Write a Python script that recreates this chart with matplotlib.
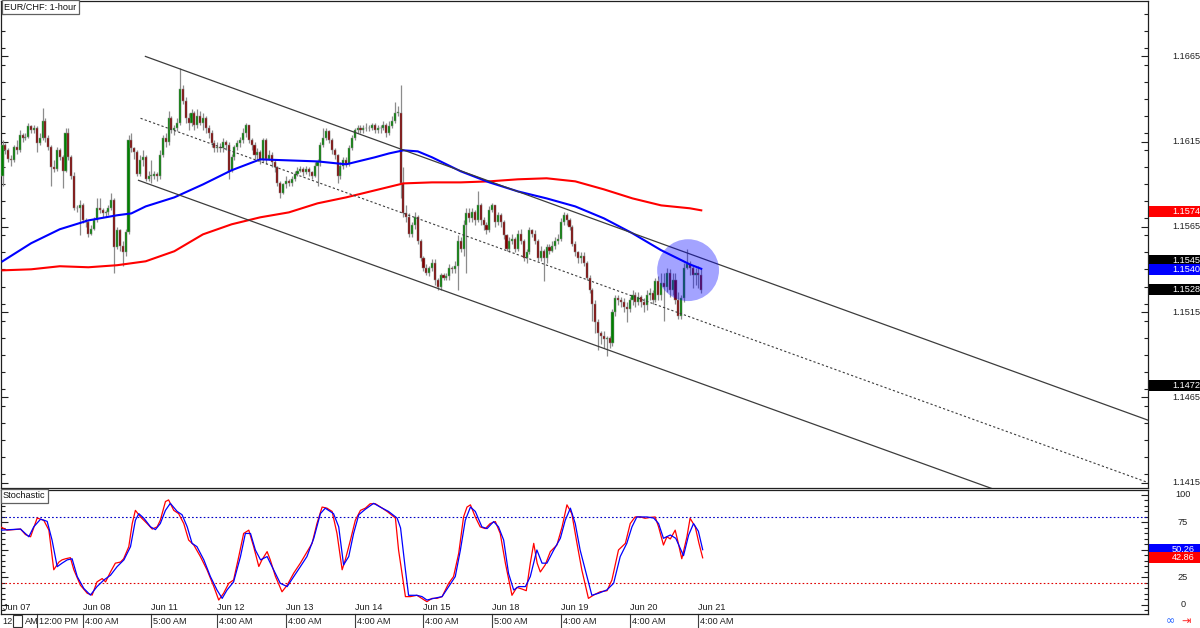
import matplotlib
matplotlib.use('Agg')
import matplotlib.pyplot as plt
from matplotlib.patches import Rectangle, Ellipse
from matplotlib.transforms import blended_transform_factory
from matplotlib.ticker import FixedLocator, MultipleLocator
import numpy as np

plt.rcParams['font.family'] = ['Liberation Sans', 'DejaVu Sans']

# ---------------- data (EUR/CHF 1-hour) ----------------
first_open = 1.1595
close = [
    1.1613, 1.1610, 1.1605, 1.1604, 1.1612, 1.1610, 1.1619, 1.1617, 1.1618, 1.1624,
    1.1622, 1.1623, 1.1614, 1.1617, 1.1627, 1.1617, 1.1612, 1.1600, 1.1599, 1.1610,
    1.1606, 1.1598, 1.1620, 1.1606, 1.1595, 1.1576, 1.1576, 1.1578, 1.1569, 1.1568,
    1.1561, 1.1564, 1.1569, 1.1576, 1.1575, 1.1573, 1.1574, 1.1576, 1.1581, 1.1553,
    1.1563, 1.1554, 1.1550, 1.1562, 1.1616, 1.1611, 1.1609, 1.1596, 1.1604, 1.1606,
    1.1593, 1.1595, 1.1595, 1.1596, 1.1595, 1.1607, 1.1617, 1.1615, 1.1629, 1.1622,
    1.1623, 1.1626, 1.1646, 1.1639, 1.1629, 1.1626, 1.1632, 1.1625, 1.1630, 1.1626,
    1.1629, 1.1623, 1.1620, 1.1614, 1.1611, 1.1612, 1.1611, 1.1615, 1.1613, 1.1598,
    1.1606, 1.1612, 1.1614, 1.1616, 1.1620, 1.1625, 1.1616, 1.1613, 1.1607, 1.1609,
    1.1604, 1.1616, 1.1605, 1.1607, 1.1603, 1.1600, 1.1591, 1.1585, 1.1590, 1.1592,
    1.1591, 1.1593, 1.1596, 1.1598, 1.1599, 1.1597, 1.1599, 1.1597, 1.1595, 1.1601,
    1.1603, 1.1613, 1.1617, 1.1621, 1.1616, 1.1610, 1.1607, 1.1595, 1.1601, 1.1604,
    1.1602, 1.1611, 1.1617, 1.1622, 1.1623, 1.1622, 1.1623, 1.1623, 1.1623, 1.1625,
    1.1622, 1.1623, 1.1623, 1.1625, 1.1620, 1.1624, 1.1627, 1.1632, 1.1632, 1.1591,
    1.1573, 1.1571, 1.1561, 1.1566, 1.1571, 1.1557, 1.1547, 1.1541, 1.1538, 1.1541,
    1.1544, 1.1534, 1.1530, 1.1537, 1.1535, 1.1536, 1.1541, 1.1540, 1.1542, 1.1557,
    1.1552, 1.1566, 1.1573, 1.1570, 1.1574, 1.1569, 1.1578, 1.1569, 1.1566, 1.1563,
    1.1575, 1.1578, 1.1568, 1.1572, 1.1568, 1.1560, 1.1552, 1.1557, 1.1558, 1.1552,
    1.1561, 1.1557, 1.1547, 1.1550, 1.1563, 1.1561, 1.1557, 1.1547, 1.1551, 1.1547,
    1.1553, 1.1551, 1.1554, 1.1557, 1.1558, 1.1568, 1.1572, 1.1569, 1.1565, 1.1555,
    1.1550, 1.1547, 1.1548, 1.1544, 1.1535, 1.1528, 1.1520, 1.1509, 1.1503, 1.1501,
    1.1499, 1.1500, 1.1497, 1.1515, 1.1523, 1.1522, 1.1521, 1.1518, 1.1517, 1.1522,
    1.1525, 1.1521, 1.1524, 1.1521, 1.1519, 1.1525, 1.1526, 1.1522, 1.1533, 1.1525,
    1.1532, 1.1530, 1.1538, 1.1528, 1.1534, 1.1522, 1.1513, 1.1523, 1.1541, 1.1543,
    1.1541, 1.1537, 1.1538, 1.1537, 1.1528]
high = [
    1.1616, 1.1614, 1.1611, 1.1607, 1.1613, 1.1616, 1.1622, 1.1620, 1.1620, 1.1626,
    1.1625, 1.1625, 1.1624, 1.1620, 1.1635, 1.1629, 1.1619, 1.1613, 1.1604, 1.1612,
    1.1611, 1.1607, 1.1623, 1.1623, 1.1607, 1.1597, 1.1578, 1.1581, 1.1579, 1.1570,
    1.1569, 1.1566, 1.1571, 1.1582, 1.1582, 1.1576, 1.1575, 1.1578, 1.1585, 1.1582,
    1.1565, 1.1564, 1.1557, 1.1564, 1.1619, 1.1620, 1.1612, 1.1610, 1.1607, 1.1610,
    1.1607, 1.1598, 1.1604, 1.1598, 1.1597, 1.1610, 1.1619, 1.1620, 1.1633, 1.1630,
    1.1625, 1.1629, 1.1658, 1.1648, 1.1641, 1.1632, 1.1634, 1.1633, 1.1634, 1.1633,
    1.1632, 1.1630, 1.1625, 1.1622, 1.1616, 1.1615, 1.1614, 1.1617, 1.1616, 1.1615,
    1.1608, 1.1613, 1.1616, 1.1618, 1.1623, 1.1626, 1.1625, 1.1617, 1.1615, 1.1611,
    1.1610, 1.1617, 1.1617, 1.1610, 1.1609, 1.1605, 1.1601, 1.1592, 1.1591, 1.1595,
    1.1593, 1.1595, 1.1598, 1.1600, 1.1601, 1.1600, 1.1601, 1.1600, 1.1598, 1.1603,
    1.1605, 1.1615, 1.1623, 1.1623, 1.1622, 1.1617, 1.1611, 1.1608, 1.1603, 1.1606,
    1.1606, 1.1613, 1.1619, 1.1623, 1.1625, 1.1625, 1.1625, 1.1626, 1.1625, 1.1626,
    1.1626, 1.1625, 1.1625, 1.1627, 1.1626, 1.1627, 1.1630, 1.1638, 1.1636, 1.1648,
    1.1600, 1.1578, 1.1573, 1.1568, 1.1574, 1.1572, 1.1558, 1.1548, 1.1543, 1.1542,
    1.1546, 1.1546, 1.1535, 1.1538, 1.1538, 1.1538, 1.1543, 1.1542, 1.1545, 1.1560,
    1.1559, 1.1569, 1.1576, 1.1576, 1.1576, 1.1575, 1.1586, 1.1579, 1.1571, 1.1568,
    1.1577, 1.1579, 1.1578, 1.1574, 1.1573, 1.1569, 1.1561, 1.1559, 1.1561, 1.1559,
    1.1563, 1.1564, 1.1558, 1.1552, 1.1565, 1.1564, 1.1563, 1.1558, 1.1554, 1.1552,
    1.1555, 1.1555, 1.1557, 1.1559, 1.1561, 1.1570, 1.1574, 1.1573, 1.1570, 1.1566,
    1.1557, 1.1551, 1.1550, 1.1550, 1.1545, 1.1537, 1.1529, 1.1522, 1.1511, 1.1504,
    1.1504, 1.1501, 1.1501, 1.1517, 1.1525, 1.1525, 1.1524, 1.1523, 1.1521, 1.1524,
    1.1528, 1.1527, 1.1527, 1.1525, 1.1523, 1.1528, 1.1529, 1.1528, 1.1535, 1.1536,
    1.1538, 1.1538, 1.1541, 1.1540, 1.1538, 1.1538, 1.1527, 1.1525, 1.1544, 1.1552,
    1.1545, 1.1542, 1.1541, 1.1542, 1.1540]
low = [
    1.1589, 1.1608, 1.1603, 1.1601, 1.1603, 1.1608, 1.1609, 1.1615, 1.1616, 1.1617,
    1.1620, 1.1620, 1.1609, 1.1613, 1.1616, 1.1615, 1.1610, 1.1589, 1.1597, 1.1598,
    1.1604, 1.1588, 1.1597, 1.1604, 1.1593, 1.1575, 1.1574, 1.1560, 1.1567, 1.1565,
    1.1559, 1.1560, 1.1563, 1.1568, 1.1573, 1.1571, 1.1571, 1.1572, 1.1575, 1.1538,
    1.1552, 1.1551, 1.1542, 1.1548, 1.1561, 1.1609, 1.1605, 1.1595, 1.1595, 1.1601,
    1.1592, 1.1592, 1.1591, 1.1593, 1.1592, 1.1593, 1.1606, 1.1612, 1.1613, 1.1620,
    1.1619, 1.1621, 1.1625, 1.1637, 1.1626, 1.1622, 1.1624, 1.1622, 1.1623, 1.1625,
    1.1622, 1.1620, 1.1617, 1.1612, 1.1609, 1.1609, 1.1609, 1.1609, 1.1610, 1.1593,
    1.1597, 1.1604, 1.1610, 1.1612, 1.1614, 1.1618, 1.1614, 1.1610, 1.1605, 1.1604,
    1.1602, 1.1603, 1.1602, 1.1604, 1.1600, 1.1597, 1.1589, 1.1582, 1.1584, 1.1588,
    1.1589, 1.1589, 1.1592, 1.1595, 1.1597, 1.1595, 1.1596, 1.1595, 1.1593, 1.1594,
    1.1589, 1.1601, 1.1612, 1.1616, 1.1614, 1.1608, 1.1605, 1.1591, 1.1593, 1.1599,
    1.1600, 1.1601, 1.1610, 1.1616, 1.1620, 1.1620, 1.1620, 1.1621, 1.1621, 1.1622,
    1.1620, 1.1620, 1.1620, 1.1622, 1.1618, 1.1619, 1.1623, 1.1626, 1.1630, 1.1582,
    1.1571, 1.1568, 1.1559, 1.1559, 1.1564, 1.1555, 1.1545, 1.1539, 1.1537, 1.1536,
    1.1539, 1.1531, 1.1528, 1.1528, 1.1534, 1.1534, 1.1534, 1.1538, 1.1538, 1.1528,
    1.1550, 1.1548, 1.1538, 1.1568, 1.1568, 1.1566, 1.1568, 1.1566, 1.1563, 1.1561,
    1.1562, 1.1574, 1.1565, 1.1566, 1.1565, 1.1558, 1.1551, 1.1550, 1.1555, 1.1550,
    1.1551, 1.1555, 1.1545, 1.1544, 1.1549, 1.1559, 1.1555, 1.1545, 1.1545, 1.1533,
    1.1544, 1.1549, 1.1550, 1.1552, 1.1555, 1.1557, 1.1566, 1.1566, 1.1563, 1.1554,
    1.1548, 1.1544, 1.1544, 1.1542, 1.1534, 1.1526, 1.1510, 1.1503, 1.1493, 1.1496,
    1.1494, 1.1489, 1.1494, 1.1495, 1.1513, 1.1519, 1.1518, 1.1515, 1.1509, 1.1515,
    1.1519, 1.1518, 1.1519, 1.1518, 1.1515, 1.1516, 1.1522, 1.1520, 1.1521, 1.1522,
    1.1522, 1.1510, 1.1527, 1.1524, 1.1525, 1.1520, 1.1511, 1.1511, 1.1521, 1.1540,
    1.1537, 1.1529, 1.1531, 1.1529, 1.1526]

# moving averages (read at sampled bar indices)
ma_blue_idx = [0, 10, 20, 30, 40, 45, 50, 60, 70, 80, 90, 100, 110, 120, 130, 135, 140,
               145, 150, 160, 170, 180, 190, 200, 210, 220, 230, 240, 244]
ma_blue = [1.15448, 1.15554, 1.15636, 1.15688, 1.15718, 1.15729, 1.15770, 1.15823, 1.15899,
           1.15982, 1.16046, 1.16040, 1.16034, 1.16017, 1.16058, 1.16081, 1.16099, 1.16093,
           1.16058, 1.15976, 1.15911, 1.15858, 1.15817, 1.15770, 1.15700, 1.15612, 1.15513,
           1.15430, 1.15404]
ma_red_idx = [0, 10, 20, 30, 40, 50, 60, 70, 80, 90, 100, 110, 120, 130, 140, 150, 160,
              170, 180, 190, 200, 210, 220, 230, 240, 244]
ma_red = [1.15395, 1.15401, 1.15419, 1.15413, 1.15425, 1.15448, 1.15507, 1.15606, 1.15665,
          1.15706, 1.15735, 1.15788, 1.15823, 1.15864, 1.15905, 1.15911, 1.15911, 1.15917,
          1.15929, 1.15935, 1.15917, 1.15870, 1.15817, 1.15776, 1.15759, 1.15747]

# descending channel (start bar, start price, end bar, end price)
chan_upper = [49.9, 1.16650, 400.0, 1.14516]
chan_mid = [48.2, 1.16287, 400.0, 1.14150]
chan_lower = [47.5, 1.15923, 400.0, 1.13784]

# highlight circle
circle_center = [239.4, 1.15396]
circle_size = [21.6, 0.00363]

# stochastic  %K (red) and %D (blue)
k_idx = [-0.7, 1.6, 6.3, 8, 9.8, 12.1, 14.4, 16.2, 17.9, 19.7, 20.8, 22, 23.7, 24.9, 27.2,
         29.6, 31.3, 33, 34.8, 36, 37.7, 39.4, 41.2, 42.3, 44.1, 45.3, 46.4, 48.2, 50.5,
         52.3, 54, 55.1, 56.9, 58, 59.8, 61.5, 63.3, 65, 66.8, 69.1, 71.4, 73.8, 75.5,
         77.2, 79, 80.7, 82.5, 84.2, 86, 87.7, 89.5, 90.6, 92.4, 93.5, 95.3, 97.6, 99.4,
         101.7, 104, 106.4, 108.1, 109.8, 111.6, 113.3, 115.1, 116.8, 118.6, 119.7, 121.5,
         123.2, 125, 126.7, 128.4, 130.2, 132, 134.3, 137.2, 138.3, 140.7, 142.4, 144.7,
         146.5, 148.2, 150, 151.7, 153.5, 155.8, 157.5, 159.3, 161, 162.2, 163.4, 165.1,
         166.8, 168.6, 170.3, 172.1, 173.8, 175.6, 177.9, 179.6, 181.4, 182.9, 184.3, 185.5,
         186.7, 187.8, 189.5, 191.3, 193.6, 195.4, 197.1, 198.8, 200.6, 202.3, 204.6, 206.4,
         208.7, 211.1, 212.8, 215.1, 217.5, 219.2, 220.9, 222.7, 224.4, 226.2, 227.9, 229.1,
         230.8, 232, 233.2, 234.9, 236, 237.2, 239, 240.1, 241.9, 243.2, 244.5]
k_val = [71, 68, 69, 64, 62, 79, 77, 68, 32, 39, 41, 42, 43, 32, 18, 10.6, 9, 21, 24, 21,
         30, 38, 39, 42, 53, 74, 86, 80, 74, 69, 71, 77, 94, 95.5, 86, 83, 74, 59, 54.5, 44,
         32, 16.7, 4.5, 10.6, 19.7, 22.7, 44, 65, 68, 53, 35, 41, 48.5, 41, 26, 12, 18, 29,
         38, 48.5, 56, 74, 89, 88, 85, 65, 32, 41, 59, 77, 86, 88, 92, 92, 89, 85, 79, 50,
         7.6, 7.6, 8.8, 5.8, 3, 6, 6, 7.6, 19.7, 25.8, 46.9, 80, 89, 91, 80, 71, 69.4, 74,
         75.8, 65, 38, 8.8, 16, 14.5, 13, 38, 56, 38, 30, 36.4, 48.5, 54.5, 71, 91, 83, 56,
         31.8, 6, 9, 12, 13, 22.7, 50, 56, 74, 80, 80, 78.8, 79.6, 80, 71, 54.5, 62, 60, 68,
         56, 42, 62, 78.8, 71, 56, 42.86]
d_idx = [-0.7, 2.8, 6.3, 9.2, 10.9, 13.3, 15.6, 17.3, 19.1, 20.8, 22.6, 24.3, 26.1, 28.4,
         30.7, 33, 35.4, 37.7, 40, 42.4, 44.7, 46.4, 47.6, 49.3, 51.7, 53.4, 55.1, 56.9,
         58.6, 61, 62.7, 64.5, 66.2, 67.9, 70.3, 72.6, 74.9, 76.7, 78.4, 80.7, 83.1, 84.8,
         86.6, 88.3, 90.1, 92.4, 94.7, 97, 99.4, 101.7, 104, 106.3, 108.7, 111, 112.7, 115.6,
         117.4, 119.1, 120.9, 122.6, 124.4, 126.7, 129.6, 131.9, 134.8, 137.8, 139, 140.7,
         141.8, 144.7, 146.5, 148.2, 150.6, 153.5, 155.8, 158.1, 159.9, 161.6, 163.4, 165.1,
         167.4, 169.2, 171.5, 173.2, 175, 176.7, 178.5, 180.2, 182.6, 184.3, 186.6, 188.4,
         190.1, 192.5, 194.8, 196.5, 198.3, 200, 201.7, 204.1, 205.8, 208.1, 211, 213.4,
         215.7, 218, 219.8, 221.5, 225, 227.4, 229.1, 230.8, 233.2, 235.1, 237.8, 239.6,
         241.3, 243, 244.5]
d_val = [68, 68.5, 69, 62, 71, 78, 76, 59, 34.8, 38, 41, 42, 25.8, 15, 9, 16.7, 22.7, 27,
         34.8, 41, 53, 77, 83, 79, 71, 68.5, 74, 86, 92.4, 85, 82, 71, 56, 53, 41, 25.8,
         13.6, 6, 13.6, 21, 44, 65, 65, 50, 41, 44, 31.8, 19.7, 16.7, 25.8, 34.8, 44, 60.6,
         83, 88, 83, 71, 36.4, 44, 65, 82, 87, 92.4, 89, 85, 79, 70, 31.8, 8.8, 8.8, 7.6,
         4.5, 6, 7.6, 16.7, 25.8, 50, 77, 89, 85, 71, 69.4, 75.8, 71, 59, 28.8, 13.6, 16.7,
         16.7, 25.8, 50, 38, 38, 50, 60.6, 77, 88, 74, 50, 25.8, 8.8, 10.6, 13.6, 19.7, 44,
         56, 71, 80, 80, 79, 74, 60.6, 63.6, 60.6, 44.8, 63.6, 74, 67, 50.26]

# axis labels
price_ticks = [1.1415, 1.1465, 1.1515, 1.1565, 1.1615, 1.1665]
price_marks = [1.1574, 1.1545, 1.1540, 1.1528, 1.1472]
price_mark_colors = ['#ff0000', '#000000', '#0000ff', '#000000', '#000000']
stoch_ticks = [0, 25, 50, 75, 100]
stoch_tick_labels = [0, 25, 75, 100]
stoch_marks = [50.26, 42.86]
stoch_mark_colors = ['#0000ff', '#ff0000']
sep_idx = [12, 28, 52, 75, 99, 123, 147, 171, 195, 219, 243]
time_labels = ['12:00 PM', '4:00 AM', '5:00 AM', '4:00 AM', '4:00 AM', '4:00 AM',
               '4:00 AM', '5:00 AM', '4:00 AM', '4:00 AM', '4:00 AM']
date_idx = [0, 28, 52, 75, 99, 123, 147, 171, 195, 219, 243]
date_labels = ['Jun 07', 'Jun 08', 'Jun 11', 'Jun 12', 'Jun 13', 'Jun 14', 'Jun 15',
               'Jun 18', 'Jun 19', 'Jun 20', 'Jun 21']

# ---------------- figure ----------------
W, H = 1200, 628
FS = 6.6
fig = plt.figure(figsize=(W / 100, H / 100), dpi=100)
fig.patch.set_facecolor('white')
R = 1148 / W
ax = fig.add_axes([0.5 / W, 1 - 488 / H, R - 0.5 / W, 487.5 / H])
ax_st = fig.add_axes([0.5 / W, 1 - 614 / H, R - 0.5 / W, 124 / H])

for a in (ax, ax_st):
    for s in a.spines.values():
        s.set_color('#202020')
        s.set_linewidth(0.9)
    a.set_xticks([])

# candles
c = np.array(close)
o = np.array([first_open] + close[:-1])
h = np.maximum(np.array(high), np.maximum(o, c))
l = np.minimum(np.array(low), np.minimum(o, c))
idx = np.arange(len(c))
up = c >= o
ax.vlines(idx, l, h, color='#8c8c8c', lw=0.9, zorder=2)
body_lo = np.minimum(o, c)
body_h = np.maximum(np.abs(c - o), 0.00002)
ax.bar(idx[up], body_h[up], bottom=body_lo[up], width=0.72, color='#008000',
       edgecolor='#8c8c8c', linewidth=0.35, zorder=3)
ax.bar(idx[~up], body_h[~up], bottom=body_lo[~up], width=0.72, color='#800000',
       edgecolor='#8c8c8c', linewidth=0.35, zorder=3)

# moving averages
ax.plot(ma_red_idx, ma_red, color='#ff0000', lw=1.5, zorder=4)
ax.plot(ma_blue_idx, ma_blue, color='#0000ff', lw=1.5, zorder=4)

# channel
for ln in (chan_upper, chan_lower):
    ax.plot([ln[0], ln[2]], [ln[1], ln[3]], color='#3c3c3c', lw=0.9, zorder=4)
ax.plot([chan_mid[0], chan_mid[2]], [chan_mid[1], chan_mid[3]], color='#3c3c3c', lw=0.8,
        ls=(0, (2, 2)), zorder=4)

# highlight circle
ax.add_patch(Ellipse(circle_center, circle_size[0], circle_size[1], facecolor='#0000ff',
                     alpha=0.36, edgecolor='none', zorder=5))

ax.set_xlim(-0.7, 400)
ax.set_ylim(1.14118, 1.16978)
ax.yaxis.set_major_locator(FixedLocator(price_ticks))
ax.yaxis.set_minor_locator(MultipleLocator(0.001))
ax.tick_params(axis='y', which='both', direction='in', left=True, right=True,
               labelleft=False, labelright=False, color='#202020')
ax.tick_params(axis='y', which='major', length=5, width=0.8)
ax.tick_params(axis='y', which='minor', length=3, width=0.8)

tr = blended_transform_factory(fig.transFigure, ax.transData)
for v in price_ticks:
    ax.text(1172 / W, v, f'{v:.4f}', transform=tr, ha='left', va='center', fontsize=FS,
            color='#202020')
bh = 11 / 17.06 * 0.001
for k, (v, col) in enumerate(zip(price_marks, price_mark_colors)):
    ax.add_patch(Rectangle((1149 / W, v - bh / 2), 51 / W, bh, transform=tr, facecolor=col,
                           edgecolor='none', clip_on=False, zorder=10 + 2 * k))
    ax.text(1172 / W, v, f'{v:.4f}', transform=tr, ha='left', va='center', fontsize=FS,
            color='white', zorder=11 + 2 * k)

# title box
fig.text(4 / W, 1 - 7 / H, 'EUR/CHF: 1-hour', ha='left', va='center', fontsize=FS,
         color='#101010', bbox=dict(boxstyle='square,pad=0.25', fc='white', ec='#606060', lw=0.9))

# ---------------- stochastic ----------------
ax_st.plot(k_idx, k_val, color='#ff0000', lw=0.9, zorder=3)
ax_st.plot(d_idx, d_val, color='#0000ff', lw=0.9, zorder=3)
ax_st.axhline(80, color='#0000c8', lw=0.8, ls=(0, (1.5, 2)), zorder=2)
ax_st.axhline(20, color='#e00000', lw=0.8, ls=(0, (1.5, 2)), zorder=2)
ax_st.set_xlim(-0.7, 400)
ax_st.set_ylim(-8.2, 104.5)
ax_st.yaxis.set_major_locator(FixedLocator(stoch_ticks))
ax_st.yaxis.set_minor_locator(MultipleLocator(5))
ax_st.tick_params(axis='y', which='both', direction='in', left=True, right=True,
                  labelleft=False, labelright=False, color='#202020')
ax_st.tick_params(axis='y', which='major', length=5, width=0.8)
ax_st.tick_params(axis='y', which='minor', length=3, width=0.8)

tr2 = blended_transform_factory(fig.transFigure, ax_st.transData)
for v in stoch_tick_labels:
    ax_st.text(1183 / W, v, f'{v}', transform=tr2, ha='center', va='center', fontsize=FS,
               color='#202020')
bh2 = 10.0
for k, (v, col) in enumerate(zip(stoch_marks, stoch_mark_colors)):
    ax_st.add_patch(Rectangle((1149 / W, v - bh2 / 2), 51 / W, bh2, transform=tr2,
                              facecolor=col, edgecolor='none', clip_on=False, zorder=10 + 2 * k))
    ax_st.text(1172 / W, v, f'{v:.2f}', transform=tr2, ha='left', va='center', fontsize=FS,
               color='white', zorder=11 + 2 * k)

fig.text(3 / W, 1 - 496 / H, 'Stochastic', ha='left', va='center', fontsize=FS,
         color='#101010', bbox=dict(boxstyle='square,pad=0.25', fc='white', ec='#606060', lw=0.9))

# date labels inside the stochastic pane
for d, lab in zip(date_idx, date_labels):
    ax_st.annotate(lab, xy=(d, -2.0), xytext=(0, 0), textcoords='offset pixels',
                   ha='left', va='center', fontsize=FS, color='#202020')

# time axis: separators + labels
trx = blended_transform_factory(ax_st.transData, ax_st.transAxes)
for s, lab in zip(sep_idx, time_labels):
    ax_st.plot([s, s], [0, -14 / 124], transform=trx, color='#404040', lw=0.8,
               clip_on=False)
    ax_st.annotate(lab, xy=(s, 0), xycoords=trx, xytext=(2, -8), textcoords='offset pixels',
                   ha='left', va='center', fontsize=FS, color='#202020', annotation_clip=False)
ax_st.annotate('12:', xy=(0, 0), xycoords=trx, xytext=(0, -8), textcoords='offset pixels',
               ha='left', va='center', fontsize=FS, color='#202020', annotation_clip=False)
fig.add_artist(Rectangle((13 / W, 1 / H), 9 / W, 12 / H, transform=fig.transFigure,
                         facecolor='white', edgecolor='#303030', lw=0.8))
ax_st.annotate('AM', xy=(0, 0), xycoords=trx, xytext=(22, -8), textcoords='offset pixels',
               ha='left', va='center', fontsize=FS, color='#202020', annotation_clip=False)

# small toolbar icons at bottom right
fig.text(1170 / W, 1 - 621 / H, '∞', ha='center', va='center', fontsize=8, color='#1a5cff',
         family='DejaVu Sans')
fig.text(1186 / W, 1 - 621 / H, '⇥', ha='center', va='center', fontsize=8, color='#ff2020',
         family='DejaVu Sans')

fig.savefig('out.png', dpi=100, facecolor='white')
